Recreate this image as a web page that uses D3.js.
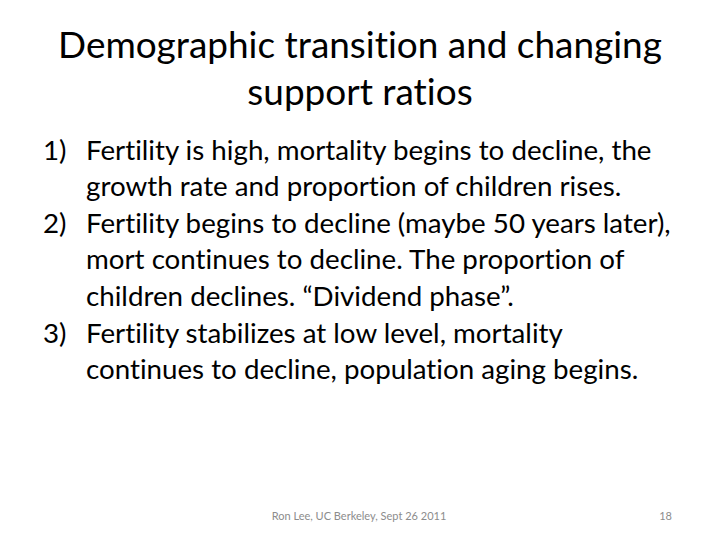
<!DOCTYPE html>
<html>
<head>
<meta charset="utf-8">
<script src="https://cdn.jsdelivr.net/npm/d3@7"></script>
<style>
  html, body { margin: 0; padding: 0; background: #ffffff; }
  svg { display: block; }
  text { font-variant-ligatures: none; font-feature-settings: "liga" 0, "clig" 0, "dlig" 0; }
</style>
</head>
<body>
<script>
const titleLines = ["Demographic transition and changing", "support ratios"];
const itemNumbers = ["1)", "2)", "3)"];
const itemLines = [
  ["Fertility is high, mortality begins to decline, the",
   "growth rate and proportion of children rises."],
  ["Fertility begins to decline (maybe 50 years later),",
   "mort continues to decline. The proportion of",
   "children declines. \u201CDividend phase\u201D."],
  ["Fertility stabilizes at low level, mortality",
   "continues to decline, population aging begins."]
];
const footerText = "Ron Lee, UC Berkeley, Sept 26 2011";
const slideNumber = "18";

const W = 720, H = 540;
const FONT = "Lato, 'Open Sans', sans-serif";

const svg = d3.select("body").append("svg")
  .attr("width", W).attr("height", H)
  .attr("viewBox", `0 0 ${W} ${H}`);

svg.append("rect").attr("width", W).attr("height", H).attr("fill", "#ffffff");

// fit a font size so that a sample string spans a target width
function fitSize(sample, targetWidth, base) {
  const t = svg.append("text").attr("font-family", FONT)
    .attr("font-size", base).text(sample);
  const w = t.node().getComputedTextLength();
  t.remove();
  return base * targetWidth / w;
}

// Title
const titleSize = fitSize(titleLines[0], 604, 40);
const titleY = d3.scaleLinear().domain([0, 1]).range([58, 105]);
svg.append("g").selectAll("text").data(titleLines).join("text")
  .attr("x", 360)
  .attr("y", (d, i) => titleY(i))
  .attr("text-anchor", "middle")
  .attr("font-family", FONT)
  .attr("font-size", titleSize)
  .attr("fill", "#000000")
  .text(d => d);

// Body list
const flat = [];
itemLines.forEach((lines, k) => {
  lines.forEach((ln, j) => flat.push({ num: j === 0 ? itemNumbers[k] : null, text: ln }));
});
const bodySize = fitSize(itemLines[1][0], 585, 28);
const lineY = d3.scaleLinear().domain([0, 1]).range([159.5, 196.1]);
const body = svg.append("g");
body.selectAll("text.line").data(flat).join("text")
  .attr("class", "line")
  .attr("x", 86)
  .attr("y", (d, i) => lineY(i))
  .attr("font-family", FONT)
  .attr("font-size", bodySize)
  .attr("fill", "#000000")
  .text(d => d.text);
body.selectAll("text.num").data(flat.map((d, i) => ({ ...d, i })).filter(d => d.num)).join("text")
  .attr("class", "num")
  .attr("x", 43)
  .attr("y", d => lineY(d.i))
  .attr("font-family", FONT)
  .attr("font-size", bodySize)
  .attr("fill", "#000000")
  .text(d => d.num);

// Footer
svg.append("text")
  .attr("x", 359).attr("y", 520)
  .attr("text-anchor", "middle")
  .attr("font-family", FONT)
  .attr("font-size", 11)
  .attr("fill", "#8c8c8c")
  .text(footerText);
svg.append("text")
  .attr("x", 672).attr("y", 520)
  .attr("text-anchor", "end")
  .attr("font-family", FONT)
  .attr("font-size", 11)
  .attr("fill", "#8c8c8c")
  .text(slideNumber);
</script>
</body>
</html>
